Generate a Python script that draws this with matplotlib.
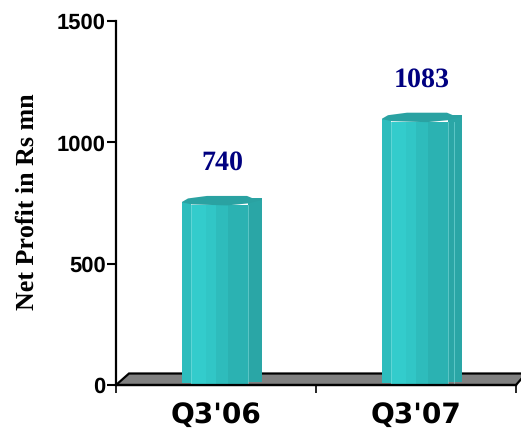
import matplotlib
matplotlib.use('Agg')
import numpy as np
from matplotlib import pyplot as plt
from matplotlib.patches import Polygon, Rectangle

plt.rcParams['text.hinting'] = 'none'
plt.rcParams['text.hinting_factor'] = 1

quarters = ["Q3'06", "Q3'07"]
profit = [740, 1083]
y_ticks = [0, 500, 1000, 1500]

W, H = 521, 430
fig = plt.figure(figsize=(W / 100, H / 100), dpi=100)
ax = fig.add_axes([116 / W, (H - 385) / H, 400 / W, 364 / H])
ax.set_xlim(0, 2)
ax.set_ylim(0, 1500)

# pixel sizes -> data units
px_x = 2 / 400
px_y = 1500 / 364

# grey floor behind the bars
floor = Polygon([(0, 0), (13 * px_x, 11.5 * px_y), (2.05, 11.5 * px_y), (2, 0)],
                closed=True, facecolor='#808080', edgecolor='black', lw=1.6,
                clip_on=False, zorder=1)
ax.add_patch(floor)

# strips of the fake cylinder: left, right (px from centre), colour, top lift, bottom lift
strips = [(-40, -31, '#2DBDBD', 3.5, 2),
          (-31, -16, '#33CCCC', 0, 0),
          (-16, -6, '#31C6C6', 0, 0),
          (-6, 6, '#2EBCBC', 0, 0),
          (6, 26, '#2BB2B2', 0, 0),
          (26, 40, '#2AA6A6', 7, 3)]
cap = [(-40, 3.5), (-34, 7), (-15, 9.5), (25, 9.5), (31, 7), (40, 7), (40, 5.5),
       (26, 2), (5, 0), (-30, 1), (-40, 3)]

for i, v in enumerate(profit):
    c = i + 0.5 + 6 * px_x
    for left, right, col, top, bot in strips:
        ax.add_patch(Rectangle((c + left * px_x, bot * px_y), (right - left + 0.4) * px_x,
                               v + (top - bot) * px_y, facecolor=col, edgecolor='none',
                               clip_on=False, zorder=3))
    ax.add_patch(Polygon([(c + a * px_x, v + b * px_y) for a, b in cap], closed=True,
                         facecolor='#2AA2A2', edgecolor='none', zorder=4))
    for pos in ([-31, 26] if i == 0 else [-31, 26, 32]):
        ax.plot([c + pos * px_x] * 2, [0.5 * px_y, v + 0.5 * px_y], color='#7FDCDC',
                lw=0.6, alpha=0.7, zorder=3.5)
    ax.annotate(str(v), (c, v), xytext=(0, 30.5), textcoords='offset points', ha='center',
                va='center', family='Liberation Serif', fontweight='bold', fontsize=20,
                color='#000080')

for s in ['top', 'right']:
    ax.spines[s].set_visible(False)
for s in ['left', 'bottom']:
    ax.spines[s].set_linewidth(1.6)
    ax.spines[s].set_zorder(5)

ax.set_yticks(y_ticks)
ax.set_yticklabels(y_ticks, family='Liberation Sans', fontweight='bold', fontsize=15.5)
ax.tick_params(axis='y', length=6.5, width=1.5, pad=1)

# major ticks between groups, labels centred on the groups
ax.set_xticks([0, 1, 2])
ax.set_xticklabels([])
ax.tick_params(axis='x', length=5.5, width=1.2)
ax.set_xticks([0.5, 1.5], minor=True)
ax.set_xticklabels(quarters, minor=True, family='DejaVu Sans', fontweight='bold', fontsize=20)
ax.tick_params(axis='x', which='minor', length=0, pad=12)

fig.text(27 / W, 1 - 202 / H, 'Net Profit in Rs mn', rotation=90, ha='center', va='center',
         family='Liberation Serif', fontweight='bold', fontsize=18.9)

fig.savefig('out.png', dpi=100)
